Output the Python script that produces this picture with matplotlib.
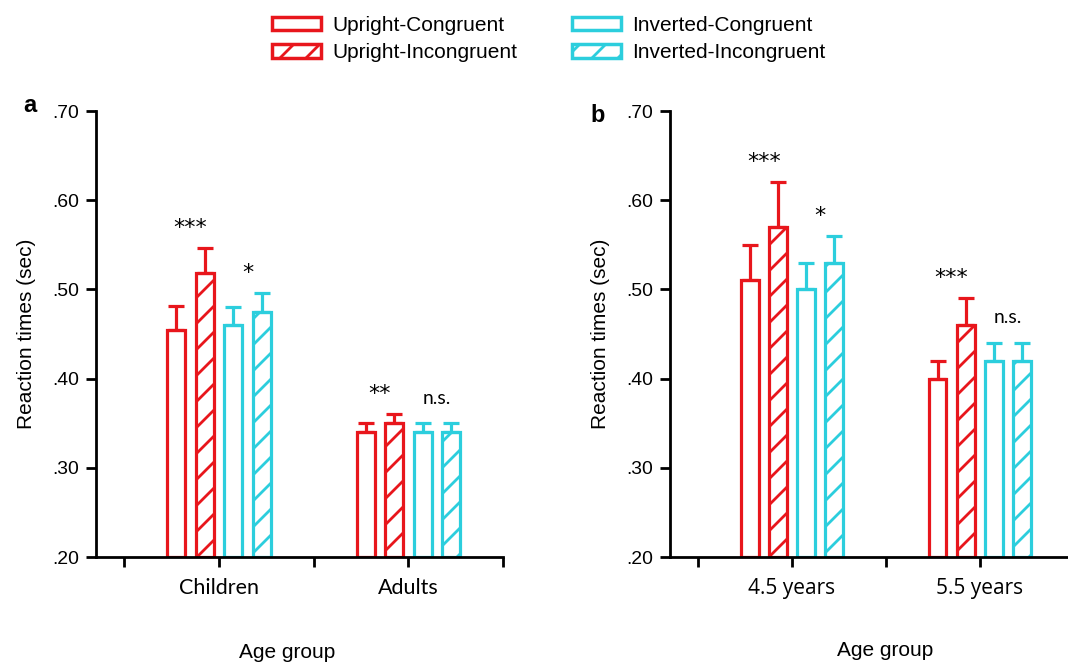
import numpy as np
import matplotlib
matplotlib.use("Agg")
import matplotlib.pyplot as plt
from matplotlib.patches import Patch

# =========================
# Data
# =========================
conditions = ["Upright-Congruent", "Upright-Incongruent",
              "Inverted-Congruent", "Inverted-Incongruent"]

groups_a = ["Children", "Adults"]
means_a = {
    "Upright-Congruent":    [0.454, 0.340],
    "Upright-Incongruent":  [0.518, 0.350],
    "Inverted-Congruent":   [0.460, 0.340],
    "Inverted-Incongruent": [0.475, 0.340],
}
errs_a = {
    "Upright-Congruent":    [0.027, 0.010],
    "Upright-Incongruent":  [0.028, 0.010],
    "Inverted-Congruent":   [0.020, 0.010],
    "Inverted-Incongruent": [0.021, 0.010],
}
sig_upright_a = ["***", "**"]
sig_inverted_a = ["*", "n.s."]

groups_b = ["4.5 years", "5.5 years"]
means_b = {
    "Upright-Congruent":    [0.51, 0.40],
    "Upright-Incongruent":  [0.57, 0.46],
    "Inverted-Congruent":   [0.50, 0.42],
    "Inverted-Incongruent": [0.53, 0.42],
}
errs_b = {
    "Upright-Congruent":    [0.04, 0.02],
    "Upright-Incongruent":  [0.05, 0.03],
    "Inverted-Congruent":   [0.03, 0.02],
    "Inverted-Incongruent": [0.03, 0.02],
}
sig_upright_b = ["***", "***"]
sig_inverted_b = ["*", "n.s."]

# =========================
# Style
# =========================
# hatch spacing follows the dpi, so render at a lower dpi and scale points up
DPI = 78
S = 100 / DPI

RED = "#E8161C"
CYAN = "#2CCEDD"
colors = [RED, RED, CYAN, CYAN]
hatches = ["", "/", "", "/"]

plt.rcParams["font.family"] = ["Liberation Sans", "DejaVu Sans"]
plt.rcParams["hatch.linewidth"] = 2.0 * S

fig = plt.figure(figsize=(1068 / DPI, 665 / DPI), dpi=DPI)
ax_a = fig.add_axes([96 / 1068, 1 - 557 / 665, 407 / 1068, 446 / 665])
ax_b = fig.add_axes([670 / 1068, 1 - 557 / 665, 398 / 1068, 446 / 665])

group_pos = np.array([1, 3])
offsets = np.array([-0.45, -0.15, 0.15, 0.45])
bar_w = 0.19


def draw_panel(ax, groups, means, errs, sig_up, sig_inv, xlim, xticks,
               tick_font, tick_size):
    for i, cond in enumerate(conditions):
        x = group_pos + offsets[i]
        m = np.array(means[cond])
        e = np.array(errs[cond])
        ax.bar(x, m - 0.20, bottom=0.20, width=bar_w, color="white",
               edgecolor=colors[i], hatch=hatches[i], linewidth=2.3 * S,
               zorder=2)
        ax.errorbar(x, m, yerr=[np.zeros_like(e), e], fmt="none",
                    ecolor=colors[i], elinewidth=2.3 * S, capsize=6 * S,
                    capthick=2.3 * S, zorder=3)
    # significance marks above each pair
    for g, gp in enumerate(group_pos):
        top_u = max(means["Upright-Congruent"][g] + errs["Upright-Congruent"][g],
                    means["Upright-Incongruent"][g] + errs["Upright-Incongruent"][g])
        top_i = max(means["Inverted-Congruent"][g] + errs["Inverted-Congruent"][g],
                    means["Inverted-Incongruent"][g] + errs["Inverted-Incongruent"][g])
        for xs, top, s in [(gp - 0.3, top_u, sig_up[g]), (gp + 0.3, top_i, sig_inv[g])]:
            if s.startswith("*"):
                ax.text(xs, top + 0.016, s, ha="center", va="baseline",
                        fontsize=16 * S, family=["DejaVu Sans"])
            else:
                ax.text(xs, top + 0.022, s, ha="center", va="baseline",
                        fontsize=14 * S, family=["Lato", "DejaVu Sans"])

    ax.set_xlim(*xlim)
    ax.set_ylim(0.20, 0.70)
    ax.set_yticks([0.20, 0.30, 0.40, 0.50, 0.60, 0.70])
    ax.set_yticklabels([".20", ".30", ".40", ".50", ".60", ".70"],
                       fontsize=14 * S)
    ax.set_xticks(xticks)
    labels = [groups[0] if t == 1 else groups[1] if t == 3 else "" for t in xticks]
    ax.set_xticklabels(labels, fontsize=tick_size * S, family=tick_font)
    ax.tick_params(axis="both", direction="out", length=7 * S, width=2 * S,
                   color="black")
    ax.tick_params(axis="x", pad=8 * S)
    ax.tick_params(axis="y", pad=5 * S)
    ax.spines["top"].set_visible(False)
    ax.spines["right"].set_visible(False)
    ax.spines["left"].set_linewidth(2 * S)
    ax.spines["bottom"].set_linewidth(2 * S)
    ax.set_ylabel("Reaction times (sec)", fontsize=15 * S, labelpad=12 * S)


draw_panel(ax_a, groups_a, means_a, errs_a, sig_upright_a, sig_inverted_a,
           (-0.3, 4.0), [0, 1, 2, 3, 4], ["Lato", "DejaVu Sans"], 15.5)
draw_panel(ax_b, groups_b, means_b, errs_b, sig_upright_b, sig_inverted_b,
           (-0.3, 3.94), [0, 1, 2, 3], ["Open Sans", "DejaVu Sans"], 15)

fig.text(30 / 1068, 1 - 106 / 665, "a", fontsize=17 * S, fontweight="bold",
         ha="center", va="center")
fig.text(598 / 1068, 1 - 115 / 665, "b", fontsize=17 * S, fontweight="bold",
         ha="center", va="center")
fig.text(287 / 1068, 1 - 652 / 665, "Age group", fontsize=15 * S,
         ha="center", va="center")
fig.text(885 / 1068, 1 - 650 / 665, "Age group", fontsize=15 * S,
         ha="center", va="center")

handles = [Patch(facecolor="white", edgecolor=colors[i], hatch=hatches[i],
                 linewidth=2.5 * S, label=conditions[i]) for i in range(4)]
fig.legend(handles=handles, ncol=2, loc="center",
           bbox_to_anchor=(549 / 1068, 1 - 39 / 665), frameon=False,
           fontsize=15 * S, handlelength=2.35, handleheight=0.65,
           columnspacing=2.6, labelspacing=0.4, handletextpad=0.55,
           borderpad=0)

fig.savefig("out.png", dpi=DPI)
